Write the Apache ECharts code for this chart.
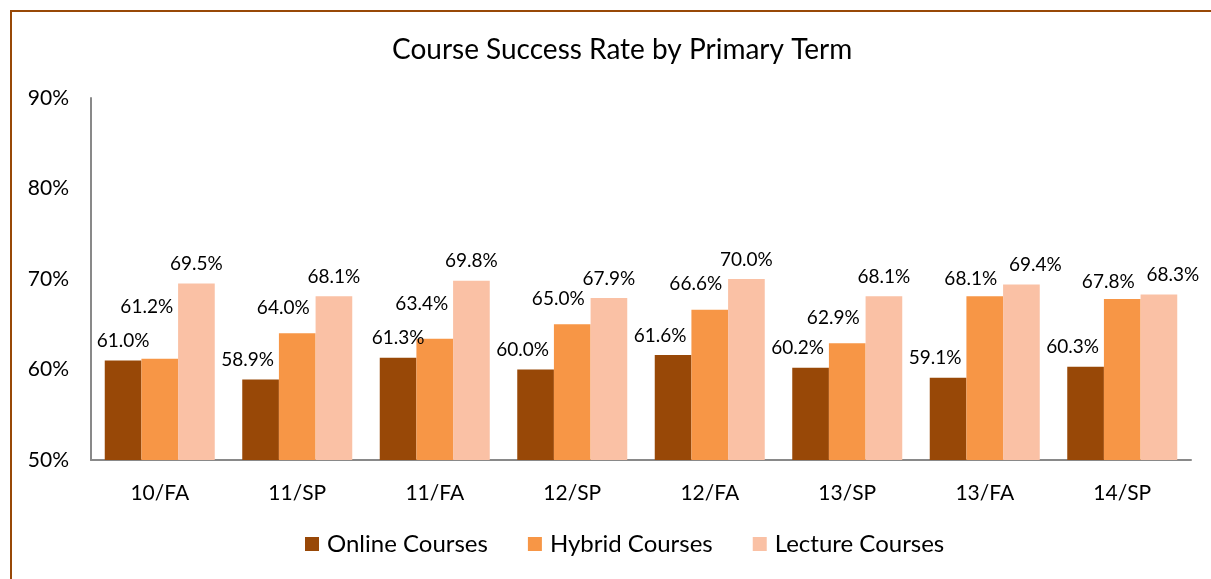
<!DOCTYPE html>
<html>
<head>
<meta charset="utf-8">
<script src="https://cdn.jsdelivr.net/npm/echarts@6/dist/echarts.min.js"></script>
<style>
  html, body { margin: 0; padding: 0; background: #fff; }
  #chart { width: 1211px; height: 579px; }
</style>
</head>
<body>
<div id="chart"></div>
<script>
const terms = ['10/FA', '11/SP', '11/FA', '12/SP', '12/FA', '13/SP', '13/FA', '14/SP']
const online = [61.0, 58.9, 61.3, 60.0, 61.6, 60.2, 59.1, 60.3]
const hybrid = [61.2, 64.0, 63.4, 65.0, 66.6, 62.9, 68.1, 67.8]
const lecture = [69.5, 68.1, 69.8, 67.9, 70.0, 68.1, 69.4, 68.3]

const font = 'Lato, "Open Sans", sans-serif'
const pxPerPoint = 362 / 40 // plot height / value span
const labelH = 24

// keep neighbouring labels apart, roughly like Excel did
function close(a, b) {
  return Math.abs(a - b) * pxPerPoint < labelH
}
const layouts = [
  // online
  i => ({ dx: close(online[i], hybrid[i]) ? 0 : -13 }),
  // hybrid
  i => {
    if (close(online[i], hybrid[i])) {
      return { dx: -13, dy: -(34 - (hybrid[i] - online[i]) * pxPerPoint) }
    }
    return { dx: -14, dy: close(hybrid[i], lecture[i]) ? 2 : -6 }
  },
  // lecture
  i => ({ dx: close(hybrid[i], lecture[i]) ? 14 : 0 }),
]

function barSeries(name, data, color, idx) {
  return {
    name: name,
    type: 'bar',
    data: data,
    barGap: '0%',
    barCategoryGap: '20%',
    itemStyle: { color: color },
    label: {
      show: true,
      position: 'top',
      distance: 10,
      color: '#000',
      fontFamily: font,
      fontSize: 19,
      formatter: p => p.value.toFixed(1) + '%',
    },
    labelLayout: p => layouts[idx](p.dataIndex),
  }
}

const chart = echarts.init(document.getElementById('chart'))
chart.setOption({
  animation: false,
  title: {
    text: 'Course Success Rate by Primary Term',
    left: 387,
    top: 31,
    textStyle: { fontFamily: font, fontSize: 28, fontWeight: 'normal', color: '#000' },
  },
  graphic: [
    {
      type: 'rect',
      shape: { x: 11, y: 11, width: 1400, height: 800 },
      style: { fill: 'none', stroke: '#984807', lineWidth: 2 },
      silent: true,
    },
  ],
  legend: {
    bottom: 18,
    left: 300,
    itemWidth: 14,
    itemHeight: 14,
    itemGap: 40,
    icon: 'rect',
    textStyle: { fontFamily: font, fontSize: 24, color: '#000', padding: [0, 0, 0, 3] },
    data: ['Online Courses', 'Hybrid Courses', 'Lecture Courses'],
  },
  grid: { left: 91, right: 20, top: 98, bottom: 119 },
  xAxis: {
    type: 'category',
    data: terms,
    axisLine: { lineStyle: { color: '#898989', width: 2 } },
    axisTick: { show: false },
    axisLabel: { fontFamily: font, fontSize: 21, color: '#000', margin: 23 },
  },
  yAxis: {
    type: 'value',
    min: 50,
    max: 90,
    interval: 10,
    axisLine: { show: true, lineStyle: { color: '#898989', width: 2 } },
    axisTick: { show: false },
    splitLine: { show: false },
    axisLabel: { fontFamily: font, fontSize: 21, color: '#000', margin: 22, formatter: '{value}%' },
  },
  series: [
    barSeries('Online Courses', online, '#984807', 0),
    barSeries('Hybrid Courses', hybrid, '#F79646', 1),
    barSeries('Lecture Courses', lecture, '#FAC1A5', 2),
  ],
})
</script>
</body>
</html>
